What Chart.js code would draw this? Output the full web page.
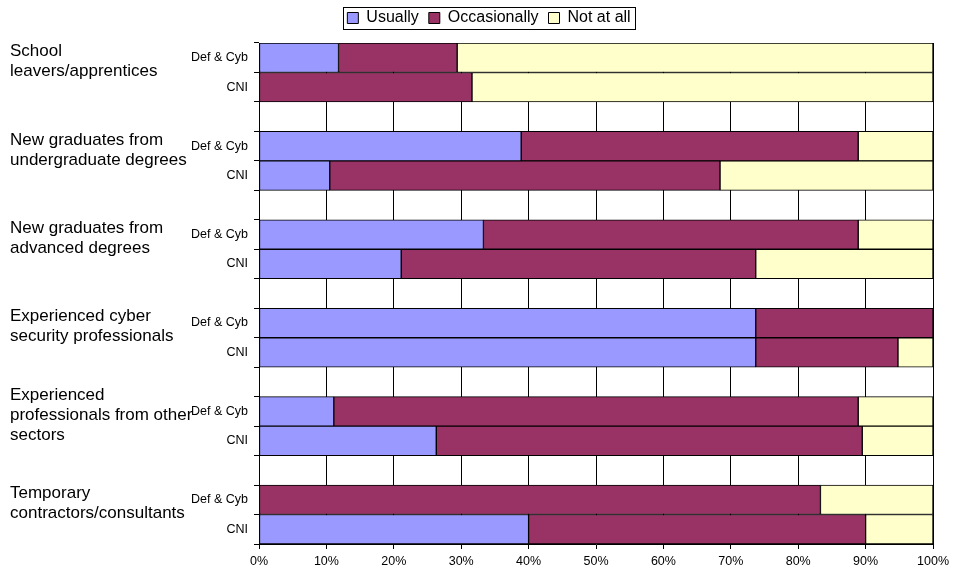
<!DOCTYPE html>
<html>
<head>
<meta charset="utf-8">
<script src="https://cdn.jsdelivr.net/npm/chart.js@4/dist/chart.umd.min.js"></script>
<style>
  html, body { margin: 0; padding: 0; background: #fff; }
  canvas { display: block; }
</style>
</head>
<body>
<canvas id="chart" width="954" height="568"></canvas>
<script>
// Groups (left-hand labels, already split into lines)
const groups = [
    ['School', 'leavers/apprentices'],
    ['New graduates from', 'undergraduate degrees'],
    ['New graduates from', 'advanced degrees'],
    ['Experienced cyber', 'security professionals'],
    ['Experienced', 'professionals from other', 'sectors'],
    ['Temporary', 'contractors/consultants']
];
const subCategories = ['Def & Cyb', 'CNI'];

// Values in %, one entry per bar: group order, Def & Cyb then CNI
const usually      = [11.8, 0,    38.9, 10.5, 33.3, 21.1, 73.7, 73.7, 11.1, 26.3, 0,    40.0];
const occasionally = [17.6, 31.6, 50.0, 57.9, 55.6, 52.6, 26.3, 21.1, 77.8, 63.2, 83.3, 50.0];
const notAtAll     = [70.6, 68.4, 11.1, 31.6, 11.1, 26.3, 0,    5.2,  11.1, 10.5, 16.7, 10.0];

const xTicks = [0, 10, 20, 30, 40, 50, 60, 70, 80, 90, 100];

// Build rows: two bars per group, then a blank spacer row (except after last)
const labels = [];
const rowIndex = [];
groups.forEach((g, gi) => {
    subCategories.forEach((s, si) => {
        labels.push(s);
        rowIndex.push(gi * subCategories.length + si);
    });
    if (gi < groups.length - 1) {
        labels.push('');
        rowIndex.push(null);
    }
});
const toRows = arr => rowIndex.map(i => (i === null || !arr[i]) ? null : arr[i]);

Chart.defaults.font.family = '"Liberation Sans", Arial, sans-serif';
Chart.defaults.color = '#000';

// Group labels on the far left
const groupLabels = {
    id: 'groupLabels',
    afterDraw(chart) {
        const y = chart.scales.y;
        const ctx = chart.ctx;
        ctx.save();
        ctx.font = '17px "Liberation Sans", Arial, sans-serif';
        ctx.fillStyle = '#000';
        ctx.textAlign = 'left';
        ctx.textBaseline = 'middle';
        let row = 0;
        groups.forEach(lines => {
            const y0 = y.getPixelForValue(row);
            const y1 = y.getPixelForValue(row + 1);
            const mid = (y0 + y1) / 2 - 11;
            const lh = 20;
            lines.forEach((t, i) => {
                ctx.fillText(t, 10, mid + (i - (lines.length - 1) / 2) * lh);
            });
            row += 3;
        });
        ctx.restore();
    }
};

// Frame around the legend
const legendFrame = {
    id: 'legendFrame',
    afterDraw(chart) {
        const hb = chart.legend && chart.legend.legendHitBoxes;
        if (!hb || !hb.length) return;
        const left = Math.min(...hb.map(b => b.left)) - 4;
        const right = Math.max(...hb.map(b => b.left + b.width)) + 5;
        const top = hb[0].top - 3;
        const ctx = chart.ctx;
        ctx.save();
        ctx.strokeStyle = '#000';
        ctx.lineWidth = 1;
        ctx.strokeRect(Math.round(left) + 0.5, Math.round(top) + 0.5, Math.round(right - left), 22);
        ctx.restore();
    }
};

const barStyle = {
    borderColor: '#000',
    borderWidth: 1,
    borderSkipped: false,
    barPercentage: 1,
    categoryPercentage: 1
};

new Chart(document.getElementById('chart'), {
    type: 'bar',
    data: {
        labels: labels,
        datasets: [
            { label: 'Usually', data: toRows(usually), backgroundColor: '#9999FF', ...barStyle },
            { label: 'Occasionally', data: toRows(occasionally), backgroundColor: '#993366', ...barStyle },
            { label: 'Not at all', data: toRows(notAtAll), backgroundColor: '#FFFFCC', ...barStyle }
        ]
    },
    options: {
        indexAxis: 'y',
        responsive: false,
        animation: false,
        layout: { padding: { left: 44, right: 20, top: 0, bottom: 0 } },
        plugins: {
            legend: {
                position: 'top',
                labels: {
                    boxWidth: 11,
                    boxHeight: 11,
                    padding: 10,
                    font: { size: 16 },
                    color: '#000'
                }
            },
            title: {
                display: true,
                text: '',
                padding: 0,
                weight: 500,
                font: { size: 7, lineHeight: 1 }
            },
            tooltip: { enabled: false }
        },
        scales: {
            x: {
                stacked: true,
                min: 0,
                max: 100,
                afterFit: s => { s.height = 24; },
                afterBuildTicks: s => { s.ticks = xTicks.map(v => ({ value: v })); },
                ticks: {
                    callback: v => v + '%',
                    font: { size: 12.5 },
                    color: '#000',
                    padding: 5,
                    maxRotation: 0
                },
                grid: { color: '#000', lineWidth: 1, tickLength: 5 },
                border: { color: '#000' }
            },
            y: {
                stacked: true,
                afterFit: s => { s.width = 215; },
                ticks: {
                    font: { size: 12.5 },
                    color: '#000',
                    padding: 6,
                    autoSkip: false
                },
                grid: { offset: true, drawOnChartArea: false, color: '#000', tickLength: 5 },
                border: { color: '#000' }
            }
        }
    },
    plugins: [groupLabels, legendFrame]
});
</script>
</body>
</html>
